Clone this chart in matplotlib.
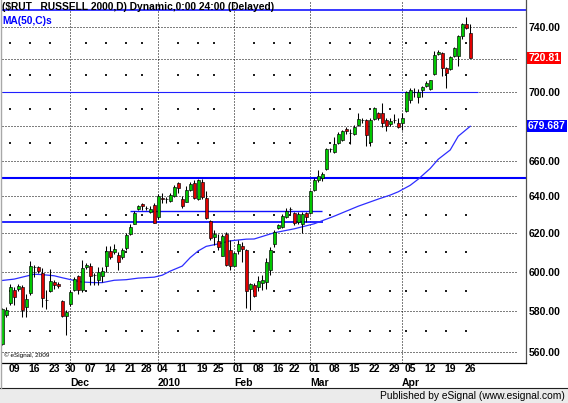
import matplotlib
matplotlib.use('Agg')
import matplotlib.pyplot as plt
import matplotlib.transforms as mtransforms
from matplotlib.patches import Rectangle
from matplotlib.lines import Line2D
from matplotlib.ticker import NullLocator
import numpy as np

plt.rcParams['font.family'] = ['Liberation Sans', 'DejaVu Sans']

# daily OHLC, trading-day index 0..117 (Nov 2009 - Apr 2010)
opens = [563.8, 577.8, 583.9, 590.3, 591.0, 592.3, 581.8, 589.0, 602.5, 602.1,
         599.1, 585.7, 590.0, 594.4, 593.8, 585.0, 577.5, 583.5, 590.4, 597.8,
         590.6, 602.2, 602.9, 598.1, 595.7, 597.8, 602.6, 610.6, 610.1, 608.8,
         607.4, 612.1, 619.6, 625.2, 633.1, 635.6, 633.9, 631.7, 635.2, 628.5,
         639.2, 638.3, 637.5, 640.2, 647.6, 638.7, 637.1, 643.5, 647.6, 638.4,
         648.0, 638.9, 626.5, 618.1, 615.8, 608.3, 619.9, 611.0, 603.1, 610.9,
         613.1, 611.3, 590.9, 592.9, 592.2, 594.1, 594.4, 600.8, 614.4, 622.7,
         623.3, 628.9, 632.9, 631.1, 626.1, 624.9, 630.8, 631.1, 643.5, 649.1,
         650.1, 655.1, 666.6, 665.0, 670.1, 672.0, 678.4, 675.8, 675.1, 680.7,
         683.2, 683.2, 670.7, 684.0, 687.7, 687.3, 683.4, 681.0, 683.4, 681.8,
         681.8, 688.7, 695.2, 700.0, 696.8, 701.2, 703.6, 701.6, 710.9, 723.3,
         723.9, 714.3, 713.9, 721.7, 721.8, 734.6, 742.1, 736.6]
highs = [581.6, 581.9, 593.6, 592.1, 593.6, 593.1, 588.4, 605.6, 603.5, 603.0,
         601.8, 590.6, 601.2, 595.4, 594.5, 585.5, 580.5, 590.6, 597.3, 598.4,
         606.2, 604.6, 604.4, 599.2, 602.3, 602.3, 613.2, 613.5, 614.5, 610.1,
         612.4, 620.2, 624.9, 631.9, 635.4, 636.4, 634.8, 634.5, 636.3, 641.4,
         642.1, 639.8, 642.1, 646.2, 648.0, 640.2, 645.7, 648.1, 649.1, 649.5,
         649.5, 643.0, 627.2, 621.8, 619.7, 619.4, 620.6, 616.3, 610.2, 616.3,
         615.4, 611.8, 594.3, 594.3, 597.5, 598.1, 606.9, 612.7, 621.8, 625.1,
         630.2, 633.5, 634.0, 631.7, 631.5, 631.5, 631.3, 643.3, 650.0, 654.5,
         653.3, 667.2, 667.4, 673.6, 676.3, 677.8, 679.0, 678.4, 680.3, 687.4,
         684.6, 684.2, 684.6, 690.9, 688.3, 693.3, 684.4, 684.4, 686.9, 684.4,
         687.7, 700.5, 702.6, 702.6, 702.0, 703.6, 706.8, 707.5, 725.1, 725.5,
         724.5, 715.0, 722.1, 727.5, 735.2, 742.9, 746.4, 742.1]
lows = [563.3, 576.8, 582.9, 582.9, 590.2, 577.2, 576.9, 588.2, 597.2, 599.3,
        581.8, 581.1, 589.4, 591.2, 591.5, 577.0, 568.1, 582.3, 589.8, 588.6,
        589.6, 601.3, 593.2, 592.9, 593.2, 594.8, 600.0, 606.5, 609.1, 600.8,
        606.5, 611.4, 619.1, 624.9, 632.7, 632.3, 632.6, 630.8, 625.3, 627.8,
        636.6, 636.6, 637.0, 639.6, 641.7, 633.6, 636.7, 643.0, 638.4, 638.0,
        638.5, 627.6, 616.5, 614.0, 611.4, 608.0, 603.0, 601.0, 602.8, 609.1,
        605.1, 581.4, 580.5, 586.9, 589.8, 590.6, 590.9, 598.1, 612.5, 622.4,
        622.6, 628.4, 630.3, 624.5, 625.0, 620.4, 626.2, 630.4, 643.1, 648.2,
        648.7, 654.7, 664.7, 664.4, 669.4, 671.2, 675.0, 669.4, 674.5, 679.7,
        681.7, 668.3, 668.3, 683.6, 683.6, 679.5, 677.1, 679.9, 681.8, 678.5,
        677.5, 688.1, 693.6, 697.2, 693.2, 696.8, 702.8, 701.4, 710.3, 722.3,
        709.4, 702.4, 713.1, 721.3, 715.6, 732.4, 738.7, 720.81]
closes = [580.9, 580.3, 592.3, 586.8, 592.6, 580.5, 585.8, 602.8, 602.5, 600.3,
          586.4, 585.7, 594.9, 593.3, 592.4, 577.5, 579.7, 589.6, 596.1, 590.6,
          601.6, 603.6, 597.8, 598.1, 599.6, 600.3, 610.4, 607.4, 611.7, 604.8,
          611.3, 619.1, 623.6, 631.1, 634.5, 634.5, 633.9, 633.3, 625.7, 640.2,
          638.3, 638.3, 641.0, 645.0, 644.5, 634.7, 643.5, 646.8, 638.9, 649.1,
          639.6, 628.2, 617.4, 619.7, 612.7, 618.5, 603.5, 602.8, 609.7, 614.5,
          611.5, 590.0, 593.4, 587.4, 595.2, 595.7, 605.1, 611.3, 620.9, 624.5,
          629.1, 632.2, 632.9, 625.7, 630.4, 630.2, 628.9, 642.9, 649.1, 651.4,
          652.5, 666.4, 666.6, 669.4, 675.1, 677.0, 676.7, 675.8, 679.3, 684.0,
          683.2, 674.9, 683.6, 690.3, 684.4, 681.8, 679.9, 682.8, 683.4, 679.5,
          684.4, 699.9, 701.4, 700.0, 700.0, 702.8, 705.2, 707.3, 722.9, 724.3,
          714.8, 711.6, 721.3, 726.9, 734.6, 742.1, 739.4, 720.81]

# 50-day moving average, read at selected days
ma_idx = [0, 3, 5, 8, 10, 13, 15, 18, 20, 23, 25, 28, 31, 34, 38, 40, 42, 45,
          47, 49, 51, 54, 57, 61, 63, 68, 73, 78, 83, 89, 94, 97, 99, 102, 104,
          107, 109, 112, 114, 117]
ma_val = [595.4, 596.1, 597.1, 598.6, 598.4, 597.8, 596.8, 595.4, 594.6, 594.3,
          594.3, 595.5, 595.8, 596.6, 597.1, 598.1, 600.2, 602.8, 607.2, 610.7,
          613.1, 614.4, 616.0, 616.9, 617.0, 620.3, 622.4, 625.1, 629.2, 634.6,
          638.5, 640.7, 642.5, 646.1, 649.5, 655.5, 660.7, 666.0, 673.9, 679.687]

# drawn support / resistance levels
level_vals = [751.1, 700.0, 650.2, 631.9, 625.9]

week_idx = [3, 8, 13, 17, 22, 27, 32, 36, 40, 45, 50, 54, 59, 64, 69, 73, 78,
            83, 88, 93, 98, 102, 107, 112, 117]
week_lbl = ['09', '16', '23', '30', '07', '14', '21', '28', '04', '11', '19',
            '25', '01', '08', '16', '22', '01', '08', '15', '22', '29', '05',
            '12', '19', '26']
month_idx = [17, 39, 58, 77, 100]
month_lbl = ['Dec', '2010', 'Feb', 'Mar', 'Apr']
dot_idx = [2, 7, 12, 21, 26, 31, 35, 44, 49, 53, 63, 68, 72, 82, 87, 92, 97,
           101, 106, 111, 116]
y_ticks = [560, 580, 600, 620, 640, 660, 700, 740]
y_grid = [560, 580, 600, 620, 640, 660, 680, 700, 720, 740]
y_minor = [570, 590, 610, 630, 650, 670, 690, 710, 730]

W, H = 568, 403
fig = plt.figure(figsize=(W / 100, H / 100), dpi=100)
fig.patch.set_facecolor('white')
ax = fig.add_axes([2 / W, 40.5 / H, 524 / W, 362.5 / H])
ax.set_yscale('log')
ax.set_xlim(-0.05, 130.95)
ax.set_ylim(554.9, 757.55)

dot = (0, (1, 2))
for v in y_grid:
    ax.axhline(v, xmin=0, xmax=0.985, color='black', lw=0.72, ls=dot, zorder=1)
for m in month_idx:
    ax.axvline(m, color='black', lw=0.72, ls=dot, zorder=1)
dx = [i for i in dot_idx for _ in y_minor]
dy = [v for _ in dot_idx for v in y_minor]
ax.scatter(dx, dy, s=0.75, marker='s', color='#202020', linewidths=0, zorder=1)

# levels
ax.axhline(level_vals[0], color='#0000ff', lw=1.1, zorder=2)
ax.hlines(level_vals[1], -0.05, 119, color='#2020ff', lw=0.8, zorder=2)
ax.axhline(level_vals[2], color='#0000ff', lw=1.5, zorder=2)
ax.hlines(level_vals[3], 32, 80, color='#1010ff', lw=1.0, zorder=2)
ax.hlines(level_vals[4], -0.05, 80.2, color='#0000ff', lw=1.2, zorder=2)

ax.plot(ma_idx, ma_val, color='#2d2dff', lw=0.9, zorder=2)

# candles
o = np.array(opens)
hi = np.array(highs)
lo = np.array(lows)
c = np.array(closes)
x = np.arange(len(o))
cols = ['#00c800' if cc > oo else ('#e00000' if cc < oo else 'black')
        for oo, cc in zip(o, c)]
ax.vlines(x, lo, hi, color='black', lw=0.75, zorder=3)
ax.bar(x, np.abs(c - o), bottom=np.minimum(o, c), width=0.7, color=cols,
       edgecolor='black', linewidth=0.45, zorder=4)

# axes frame
for s in ['top', 'left']:
    ax.spines[s].set_visible(False)
ax.spines['bottom'].set_color('black')
ax.spines['bottom'].set_linewidth(0.9)
ax.spines['right'].set_color('#505050')
ax.spines['right'].set_linewidth(0.9)

ax.set_xticks([])
ax.yaxis.tick_right()
ax.set_yticks(y_ticks)
ax.set_yticklabels(['%.2f' % v for v in y_ticks])
ax.yaxis.set_minor_locator(NullLocator())
ax.tick_params(axis='y', length=0, pad=2, labelsize=7.5)
for t in ax.get_yticklabels():
    t.set_fontweight('bold')

rt = mtransforms.blended_transform_factory(ax.transAxes, ax.transData)
ax.text(1.004, closes[-1], '720.81', transform=rt, ha='left', va='center',
        fontsize=7.5, fontweight='bold', color='white',
        bbox=dict(boxstyle='square,pad=0.08', fc='#ff0000', ec='none'))
ax.text(1.004, ma_val[-1], '679.687', transform=rt, ha='left', va='center',
        fontsize=7.5, fontweight='bold', color='white',
        bbox=dict(boxstyle='square,pad=0.08', fc='#0000ff', ec='none'))

bt = mtransforms.blended_transform_factory(ax.transData, fig.transFigure)
for i, lab in zip(week_idx, week_lbl):
    ax.text(i, 1 - 369.5 / H, lab, transform=bt, ha='center', va='center',
            fontsize=7.5, fontweight='bold', clip_on=False)
for i, lab in zip(month_idx, month_lbl):
    ax.text(i - 0.1, 1 - 382.5 / H, lab, transform=bt, ha='left', va='center',
            fontsize=7.5, fontweight='bold', clip_on=False)

fig.text(2 / W, 1 - 7 / H, '($RUT   RUSSELL 2000,D) Dynamic,0:00 24:00 (Delayed)',
         ha='left', va='center', fontsize=7.4, fontweight='bold', color='black')
fig.text(2 / W, 1 - 21 / H, 'MA(50,C)s', ha='left', va='center', fontsize=7.4,
         fontweight='bold', color='#0000ff')
fig.text(4 / W, 1 - 355.5 / H, '\u00a9 eSignal, 2009', ha='left', va='center',
         fontsize=4.6, color='black')

# status strip
fig.add_artist(Rectangle((0, 0), 1, 15 / H, transform=fig.transFigure,
                         facecolor='#ebebeb', edgecolor='none'))
fig.add_artist(Line2D([0, 1], [1 - 388.3 / H] * 2, transform=fig.transFigure,
                      color='#202020', lw=0.8))
fig.add_artist(Line2D([0.8 / W] * 2, [15 / H, 1], transform=fig.transFigure,
                      color='#a8a8a8', lw=1.0))
fig.text(565 / W, 1 - 396 / H, 'Published by eSignal (www.esignal.com)',
         ha='right', va='center', fontsize=7.4, color='black')

fig.savefig('out.png', dpi=100)
